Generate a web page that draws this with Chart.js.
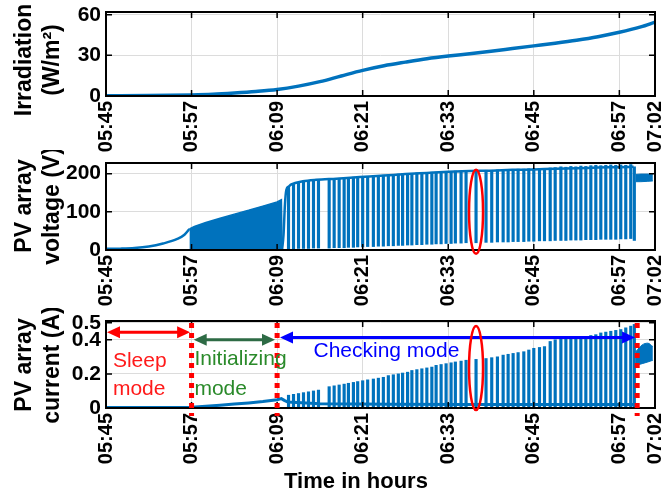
<!DOCTYPE html>
<html>
<head>
<meta charset="utf-8">
<script src="https://cdn.jsdelivr.net/npm/chart.js@4.4.1/dist/chart.umd.min.js"></script>
<style>
  body { margin: 0; background: #fff; }
  #wrap { position: relative; width: 669px; height: 497px; overflow: hidden; }
  canvas { position: absolute; left: 0; }
</style>
</head>
<body>
<div id="wrap">
  <canvas id="irr" width="669" height="160" style="top:0px"></canvas>
  <canvas id="volt" width="669" height="160" style="top:150px"></canvas>
  <canvas id="curr" width="669" height="189" style="top:308px"></canvas>
</div>
<script>
// time axis is in minutes after 05:45
const tickMinutes = [0, 12, 24, 36, 48, 60, 72, 77];
const tickLabels = ['05:45', '05:57', '06:09', '06:21', '06:33', '06:45', '06:57', '07:02'];

const irrTime = [0, 6, 12, 15, 18, 21, 24, 27, 30, 33, 36, 39, 42, 45, 48, 51, 54, 57, 60, 63, 66, 69, 72, 75, 77];
const irrValue = [0.2, 0.3, 0.8, 1.3, 2.2, 3.3, 4.8, 7.3, 10.6, 14.8, 18.9, 22.3, 25, 27.5, 29.5, 31.2, 33, 35, 37, 39, 41.2, 43.8, 47, 51, 54.5];

// PV voltage
const voltSleepT = [0, 2, 4, 6, 8, 10, 11, 11.7];
const voltSleepV = [3, 3.5, 5, 9, 17, 29, 40, 55];
const voltInitT = [11.7, 12.4, 14, 16, 18, 20, 22, 24, 24.6, 24.7];
const voltInitV = [55, 62, 72, 83, 94, 104, 115, 126, 132, 0];
const voltEnvT = [24.7, 24.9, 25.1, 25.3, 25.6, 26.0, 27.6, 29.5, 32.3, 35.6, 39, 42, 45, 48, 51, 54, 57, 60, 63, 66, 69, 72, 74.0];
const voltEnvV = [2, 40, 120, 158, 166, 172, 180, 184, 187, 191, 195, 199, 202, 205, 207, 208, 210, 211, 213, 214, 216, 217, 218];
const voltBandT = [74.3, 75, 76, 76.7];
const voltBandTop = [198, 199, 199, 198];
const voltBandLow = [179, 179, 180, 181];

// checking-mode pulses
const spikeTime = [
  25.6, 26.3, 27.0, 27.7, 28.4, 29.1, 29.8,
  31.3, 32.0, 32.7, 33.4, 34.0, 34.7, 35.3, 36.0, 36.7,
  37.5, 38.2, 38.9, 39.6, 40.3, 41.0, 41.6, 42.3, 42.9, 43.6, 44.3, 45.0, 45.7, 46.3, 47.0, 47.7, 48.4, 49.0, 49.8,
  50.5, 51.9, 53.3, 54.1, 54.9, 55.7, 56.4, 57.1, 57.8, 58.6, 59.3, 60.0, 60.8, 61.5, 62.3, 63.0,
  63.8, 64.5, 65.2, 65.9, 66.6, 67.3, 68.0, 68.7, 69.4, 70.1, 70.8, 71.5, 72.2, 72.9, 73.6, 74.1
];
const voltSpikeLow = [
  3, 3, 4, 4, 4, 5, 5,
  5, 6, 6, 6, 7, 7, 8, 8, 9,
  9, 10, 10, 11, 11, 12, 12, 13, 13, 14, 14, 15, 15, 16, 16, 17, 17, 18, 18,
  19, 19, 20, 20, 21, 21, 21, 22, 22, 22, 23, 23, 24, 24, 24, 25,
  25, 25, 26, 26, 26, 27, 27, 27, 28, 28, 28, 28, 29, 29, 30, 25
];
const voltSpikeTop = [
  166, 172, 176, 179, 181, 183, 184,
  186, 187, 188, 189, 190, 191, 191, 192, 193,
  194, 195, 196, 197, 198, 199, 200, 201, 201, 202, 203, 203, 204, 204, 205, 206, 206, 207, 207,
  208, 208, 209, 209, 210, 210, 211, 211, 212, 212, 213, 213, 214, 214, 215, 216,
  218, 217, 219, 218, 220, 219, 221, 222, 221, 222, 223, 222, 223, 222, 224, 218
];
const currSpikePeak = [
  0.075, 0.08, 0.085, 0.09, 0.095, 0.10, 0.105,
  0.125, 0.13, 0.135, 0.14, 0.145, 0.15, 0.155, 0.16, 0.165,
  0.17, 0.175, 0.18, 0.19, 0.195, 0.20, 0.205, 0.21, 0.22, 0.225, 0.23, 0.235, 0.24, 0.25, 0.255, 0.26, 0.265, 0.27, 0.275,
  0.28, 0.285, 0.29, 0.295, 0.30, 0.31, 0.315, 0.32, 0.325, 0.33, 0.34, 0.35, 0.355, 0.36, 0.39, 0.40,
  0.405, 0.41, 0.41, 0.41, 0.415, 0.42, 0.425, 0.43, 0.44, 0.445, 0.45, 0.455, 0.46, 0.47, 0.48, 0.49
];

// PV current
const currTime = [0, 6, 12, 14, 16, 18, 20, 22, 24, 24.6, 25.0, 25.5, 30, 40, 50, 60, 70, 74.3];
const currValue = [0.003, 0.003, 0.005, 0.01, 0.016, 0.023, 0.03, 0.038, 0.048, 0.055, 0.045, 0.035, 0.025, 0.022, 0.02, 0.02, 0.02, 0.02];
const currBandT = [74.3, 75.2, 76, 76.7];
const currBandTop = [0.33, 0.37, 0.38, 0.36];
const currBandLow = [0.25, 0.26, 0.27, 0.28];

const blue = '#0072BD';
const fontFamily = '"Liberation Sans", Arial, sans-serif';
Chart.defaults.font.family = fontFamily;
Chart.defaults.color = '#000';

function xy(xs, ys) {
  return xs.map((x, i) => ({x: x, y: ys[i]}));
}

// black box, inward ticks and the two-line y title
const framePlugin = {
  id: 'frame',
  afterDraw(chart, args, opts) {
    const {ctx, chartArea: a} = chart;
    const x = chart.scales.x, y = chart.scales.y;
    ctx.save();
    ctx.strokeStyle = '#000';
    ctx.lineWidth = 2;
    ctx.strokeRect(a.left, a.top, a.width, a.height);
    ctx.lineWidth = 1.5;
    ctx.beginPath();
    x.ticks.forEach(t => {
      const px = x.getPixelForValue(t.value);
      ctx.moveTo(px, a.bottom); ctx.lineTo(px, a.bottom - 6);
      ctx.moveTo(px, a.top); ctx.lineTo(px, a.top + 6);
    });
    y.ticks.forEach(t => {
      const py = y.getPixelForValue(t.value);
      ctx.moveTo(a.left, py); ctx.lineTo(a.left + 6, py);
      ctx.moveTo(a.right, py); ctx.lineTo(a.right - 6, py);
    });
    ctx.stroke();

    ctx.fillStyle = '#000';
    ctx.font = 'bold 23px ' + fontFamily;
    ctx.textAlign = 'center';
    ctx.textBaseline = 'middle';
    opts.title.forEach((line, i) => {
      ctx.save();
      ctx.translate(25 + i * 28, opts.titleY);
      ctx.rotate(-Math.PI / 2);
      ctx.fillText(line, 0, 0);
      ctx.restore();
    });
    ctx.restore();
  }
};

function ellipseAt(chart, t, v, rx, ry) {
  const ctx = chart.ctx;
  const cx = chart.scales.x.getPixelForValue(t);
  const cy = chart.scales.y.getPixelForValue(v);
  ctx.save();
  ctx.strokeStyle = '#ff0000';
  ctx.lineWidth = 2.5;
  ctx.beginPath();
  ctx.ellipse(cx, cy, rx, ry, 0, 0, Math.PI * 2);
  ctx.stroke();
  ctx.restore();
}

function doubleArrow(ctx, x1, x2, y, color) {
  const hl = 13, hw = 6;
  ctx.save();
  ctx.strokeStyle = color;
  ctx.fillStyle = color;
  ctx.lineWidth = 3;
  ctx.beginPath();
  ctx.moveTo(x1 + hl - 2, y); ctx.lineTo(x2 - hl + 2, y);
  ctx.stroke();
  ctx.beginPath();
  ctx.moveTo(x1, y); ctx.lineTo(x1 + hl, y - hw); ctx.lineTo(x1 + hl, y + hw); ctx.closePath();
  ctx.fill();
  ctx.beginPath();
  ctx.moveTo(x2, y); ctx.lineTo(x2 - hl, y - hw); ctx.lineTo(x2 - hl, y + hw); ctx.closePath();
  ctx.fill();
  ctx.restore();
}

const voltNotes = {
  id: 'voltNotes',
  afterDraw(chart) {
    ellipseAt(chart, 51.9, 100, 7, 42);
  }
};

const currNotes = {
  id: 'currNotes',
  afterDraw(chart) {
    const {ctx, chartArea: a} = chart;
    const x = v => chart.scales.x.getPixelForValue(v);
    const y = v => chart.scales.y.getPixelForValue(v);

    // mode boundaries
    ctx.save();
    ctx.strokeStyle = '#ff0000';
    ctx.lineWidth = 5;
    ctx.setLineDash([5, 5]);
    ctx.beginPath();
    [12, 24, 74.5].forEach(t => {
      ctx.moveTo(x(t), a.top + 2);
      ctx.lineTo(x(t), a.bottom + 8);
    });
    ctx.stroke();
    ctx.restore();

    doubleArrow(ctx, x(0) + 1, x(11.8), y(0.444), '#ff0000');
    doubleArrow(ctx, x(12.3), x(23.7), y(0.40), '#2e6b45');
    doubleArrow(ctx, x(24.4), x(74.2), y(0.414), '#0000ff');

    ctx.save();
    ctx.font = '21px ' + fontFamily;
    ctx.textBaseline = 'middle';
    ctx.textAlign = 'left';
    ctx.fillStyle = '#ff1a1a';
    ctx.fillText('Sleep', x(0.97), y(0.274));
    ctx.fillText('mode', x(0.97), y(0.108));
    ctx.fillStyle = '#2a8a2a';
    ctx.fillText('Initializing', x(12.4), y(0.284));
    ctx.fillText('mode', x(12.4), y(0.108));
    ctx.fillStyle = '#0000ff';
    ctx.fillText('Checking mode', x(29.1), y(0.334));
    ctx.fillStyle = '#000';
    ctx.font = 'bold 22px ' + fontFamily;
    ctx.textAlign = 'center';
    ctx.fillText('Time in hours', 356, 174);
    ctx.restore();

    ellipseAt(chart, 51.9, 0.234, 7, 42);
  }
};

function panelOptions(yMin, yMax, yTicks, title, titleY, padTop, xHeight) {
  return {
    responsive: false,
    animation: false,
    events: [],
    layout: {padding: {top: padTop, right: 14, left: 0, bottom: 0}},
    plugins: {legend: {display: false}, tooltip: {enabled: false}, frame: {title: title, titleY: titleY}},
    scales: {
      x: {
        type: 'linear', min: 0, max: 77, offset: false,
        afterBuildTicks: s => { s.ticks = tickMinutes.map(v => ({value: v})); },
        afterFit: s => { s.height = xHeight; s.paddingLeft = 0; s.paddingRight = 0; },
        grid: {color: '#dcdcdc', lineWidth: 1, drawTicks: false, offset: false},
        border: {display: false},
        ticks: {
          autoSkip: false, minRotation: 90, maxRotation: 90, padding: 5,
          font: {size: 20, weight: 'bold'},
          callback: v => tickLabels[tickMinutes.indexOf(v)]
        }
      },
      y: {
        type: 'linear', min: yMin, max: yMax,
        afterBuildTicks: s => { s.ticks = yTicks.map(v => ({value: v})); },
        afterFit: s => { s.width = 106; s.paddingTop = 0; s.paddingBottom = 0; },
        grid: {color: '#dcdcdc', lineWidth: 1, drawTicks: false},
        border: {display: false},
        ticks: {padding: 5, font: {size: 21, weight: 'bold'}, callback: v => String(v)}
      }
    }
  };
}

const lineStyle = {borderColor: blue, backgroundColor: blue, pointRadius: 0, fill: false};

new Chart(document.getElementById('irr'), {
  type: 'line',
  data: {
    datasets: [
      Object.assign({data: xy(irrTime, irrValue), borderWidth: 3.5, cubicInterpolationMode: 'monotone'}, lineStyle)
    ]
  },
  options: panelOptions(0, 62, [0, 30, 60], ['Irradiation', '(W/m²)'], 60, 12, 64),
  plugins: [framePlugin]
});

new Chart(document.getElementById('volt'), {
  type: 'line',
  data: {
    datasets: [
      Object.assign({data: xy(voltSleepT, voltSleepV), borderWidth: 2.5, cubicInterpolationMode: 'monotone'}, lineStyle),
      Object.assign({}, lineStyle, {data: xy(voltInitT, voltInitV), borderWidth: 1.5, fill: 'origin'}),
      Object.assign({data: xy(voltEnvT, voltEnvV), borderWidth: 2.5, cubicInterpolationMode: 'monotone'}, lineStyle),
      {
        type: 'bar',
        data: spikeTime.map((t, i) => ({x: t, y: [voltSpikeLow[i], voltSpikeTop[i]]})),
        backgroundColor: blue, barThickness: 2.5, borderWidth: 0
      },
      Object.assign({}, lineStyle, {data: xy(voltBandT, voltBandTop), borderWidth: 1, fill: '+1'}),
      Object.assign({}, lineStyle, {data: xy(voltBandT, voltBandLow), borderWidth: 1})
    ]
  },
  options: panelOptions(0, 228, [0, 100, 200], ['PV array', 'voltage (V)'], 56, 13, 60),
  plugins: [framePlugin, voltNotes]
});

new Chart(document.getElementById('curr'), {
  type: 'line',
  data: {
    datasets: [
      Object.assign({data: xy(currTime, currValue), borderWidth: 3}, lineStyle),
      {
        type: 'bar',
        data: xy(spikeTime, currSpikePeak),
        backgroundColor: blue, barThickness: 2.5, borderWidth: 0
      },
      Object.assign({}, lineStyle, {data: xy(currBandT, currBandTop), borderWidth: 1, fill: '+1', cubicInterpolationMode: 'monotone'}),
      Object.assign({}, lineStyle, {data: xy(currBandT, currBandLow), borderWidth: 1})
    ]
  },
  options: panelOptions(0, 0.51, [0, 0.2, 0.4, 0.5], ['PV array', 'current (A)'], 57, 13, 89),
  plugins: [framePlugin, currNotes]
});
</script>
</body>
</html>
